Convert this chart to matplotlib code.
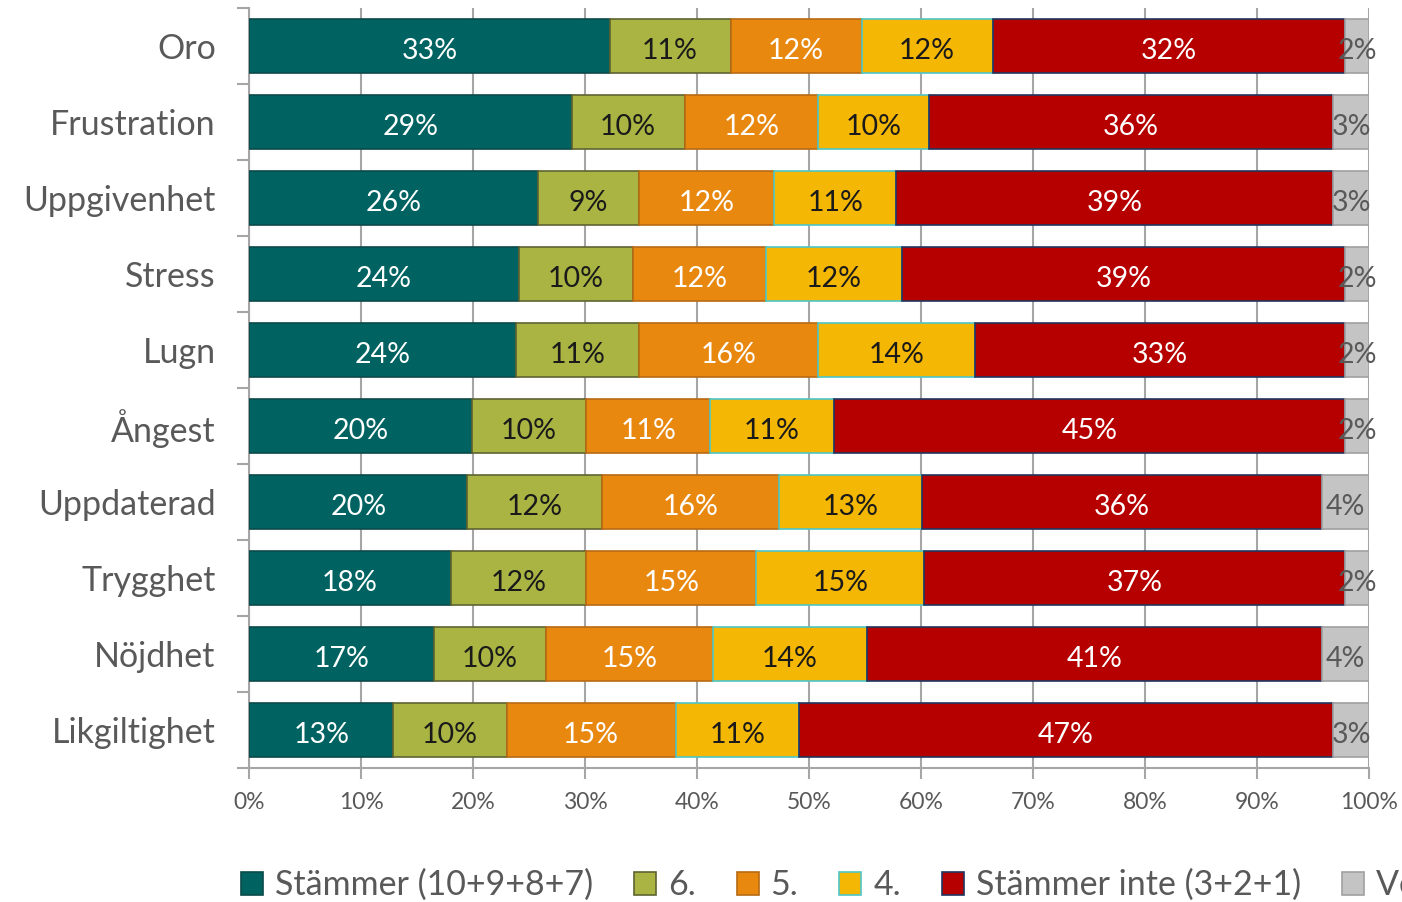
import numpy as np
import matplotlib.pyplot as plt

plt.rcParams['font.family'] = ['Lato', 'DejaVu Sans']

# kategorier, uppifrån och ned
categories = ['Oro', 'Frustration', 'Uppgivenhet', 'Stress', 'Lugn', 'Ångest',
              'Uppdaterad', 'Trygghet', 'Nöjdhet', 'Likgiltighet']

series_names = ['Stämmer (10+9+8+7)', '6.', '5.', '4.', 'Stämmer inte (3+2+1)', 'Vet ej']

# andelar i procent
stammer = [32.2, 28.8, 25.8, 24.1, 23.8, 19.9, 19.5, 18.0, 16.5, 12.9]
sex = [10.8, 10.1, 9.0, 10.2, 11.0, 10.2, 12.0, 12.1, 10.0, 10.1]
fem = [11.7, 11.9, 12.1, 11.9, 16.0, 11.1, 15.8, 15.2, 14.9, 15.1]
fyra = [11.7, 9.9, 10.9, 12.1, 14.0, 11.0, 12.8, 15.0, 13.8, 11.0]
stammer_inte = [31.5, 36.1, 39.0, 39.6, 33.1, 45.7, 35.7, 37.6, 40.6, 47.7]
vet_ej = [2.1, 3.2, 3.2, 2.1, 2.1, 2.1, 4.2, 2.1, 4.2, 3.2]

# etiketter som de står i diagrammet
lbl_stammer = [33, 29, 26, 24, 24, 20, 20, 18, 17, 13]
lbl_sex = [11, 10, 9, 10, 11, 10, 12, 12, 10, 10]
lbl_fem = [12, 12, 12, 12, 16, 11, 16, 15, 15, 15]
lbl_fyra = [12, 10, 11, 12, 14, 11, 13, 15, 14, 11]
lbl_stammer_inte = [32, 36, 39, 39, 33, 45, 36, 37, 41, 47]
lbl_vet_ej = [2, 3, 3, 2, 2, 2, 4, 2, 4, 3]

data = [stammer, sex, fem, fyra, stammer_inte, vet_ej]
labels = [lbl_stammer, lbl_sex, lbl_fem, lbl_fyra, lbl_stammer_inte, lbl_vet_ej]
colors = ['#006361', '#A9B442', '#E8880F', '#F4B704', '#B60000', '#C4C4C4']
edges = ['#0B4A48', '#5E6330', '#B86A14', '#4FC6C6', '#1F3560', '#A0A0A0']
txtcolors = ['white', '#1A1A1A', 'white', '#1A1A1A', 'white', '#595959']

fig = plt.figure(figsize=(14.02, 9.02), dpi=100)
ax = fig.add_axes([249 / 1402, 1 - 768 / 902, (1369 - 249) / 1402, 760 / 902])

y = np.arange(len(categories))
left = np.zeros(len(categories))
for i in range(len(data)):
    vals = np.array(data[i])
    ax.barh(y, vals, left=left, height=0.7, color=colors[i], edgecolor=edges[i],
            linewidth=1.2, label=series_names[i], zorder=3)
    for j in range(len(categories)):
        ax.text(left[j] + vals[j] / 2, y[j] + 0.03, f'{labels[i][j]}%', ha='center',
                va='center_baseline', color=txtcolors[i], fontsize=20.5, zorder=4)
    left += vals

ax.set_xlim(0, 100)
ax.set_ylim(len(categories) - 0.5, -0.5)
ax.set_xticks(np.arange(0, 101, 10))
ax.set_xticklabels([f'{v}%' for v in range(0, 101, 10)], fontsize=16.5, color='#595959')
ax.set_yticks(y)
ax.set_yticklabels(categories, fontsize=24.5, color='#595959', va='center_baseline')
ax.set_yticks(np.arange(-0.5, len(categories), 1), minor=True)
ax.tick_params(axis='y', which='major', length=0, pad=24)
ax.tick_params(axis='y', which='minor', length=9, color='#A6A6A6', width=1.5)
ax.tick_params(axis='x', length=8, color='#A6A6A6', width=1.5, pad=9)
ax.xaxis.grid(True, color='#A6A6A6', linewidth=1.5, zorder=0)
for s in ['top', 'right']:
    ax.spines[s].set_visible(False)
for s in ['left', 'bottom']:
    ax.spines[s].set_color('#A6A6A6')
    ax.spines[s].set_linewidth(1.5)

# legenden går utanför högerkanten precis som i originalet
fig.legend(loc='center left', bbox_to_anchor=(241 / 1402, 1 - 885 / 902), ncol=6,
           frameon=False, fontsize=24.5, handlelength=0.65, handleheight=0.65,
           handletextpad=0.35, columnspacing=1.2, borderpad=0, borderaxespad=0,
           labelcolor='#595959')

fig.savefig('out.png', dpi=100)
